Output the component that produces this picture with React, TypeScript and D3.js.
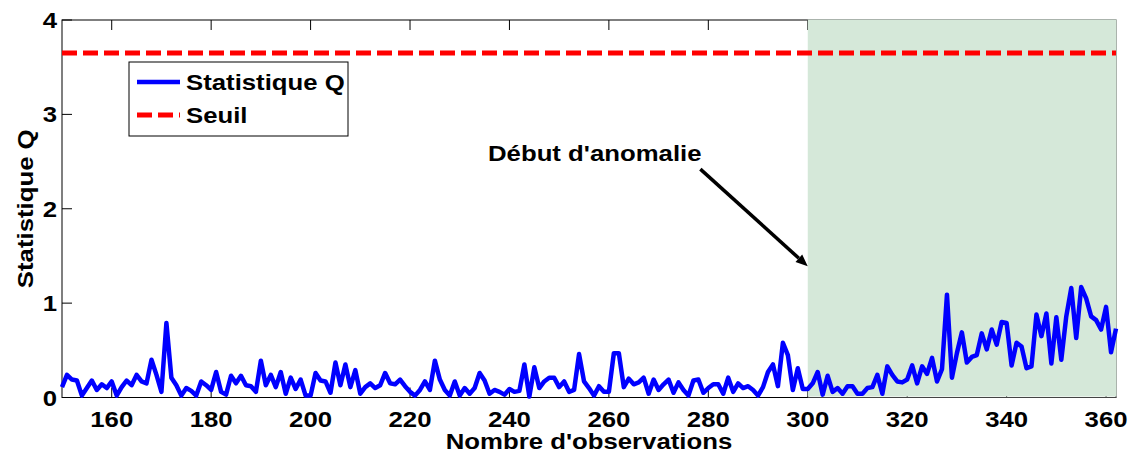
import React from "react";
import * as d3 from "d3";

const startObs = 150;
const qValues: number[] = [
  0.11, 0.24, 0.19, 0.18, 0.02, 0.10, 0.18, 0.08, 0.14, 0.10,
  0.17, 0.02, 0.11, 0.18, 0.13, 0.24, 0.17, 0.15, 0.40, 0.24,
  0.06, 0.79, 0.21, 0.13, 0.02, 0.10, 0.07, 0.02, 0.17, 0.13,
  0.08, 0.27, 0.06, 0.03, 0.23, 0.15, 0.23, 0.13, 0.12, 0.06,
  0.39, 0.13, 0.24, 0.11, 0.27, 0.04, 0.21, 0.09, 0.19, 0.02,
  0.02, 0.26, 0.18, 0.17, 0.05, 0.37, 0.13, 0.35, 0.11, 0.29,
  0.04, 0.11, 0.15, 0.10, 0.13, 0.26, 0.15, 0.14, 0.19, 0.12,
  0.06, 0.02, 0.08, 0.17, 0.08, 0.39, 0.19, 0.08, 0.02, 0.17,
  0.02, 0.10, 0.04, 0.10, 0.26, 0.18, 0.04, 0.08, 0.06, 0.03,
  0.09, 0.06, 0.07, 0.35, 0.01, 0.32, 0.10, 0.17, 0.21, 0.21,
  0.11, 0.17, 0.06, 0.08, 0.46, 0.17, 0.10, 0.02, 0.12, 0.06,
  0.06, 0.47, 0.47, 0.11, 0.20, 0.14, 0.16, 0.21, 0.04, 0.19,
  0.08, 0.14, 0.19, 0.05, 0.16, 0.08, 0.02, 0.18, 0.19, 0.05,
  0.10, 0.14, 0.14, 0.04, 0.21, 0.06, 0.15, 0.10, 0.12, 0.08,
  0.02, 0.11, 0.27, 0.35, 0.12, 0.58, 0.45, 0.08, 0.31, 0.09,
  0.09, 0.15, 0.27, 0.03, 0.23, 0.06, 0.10, 0.04, 0.12, 0.12,
  0.04, 0.04, 0.10, 0.11, 0.24, 0.04, 0.33, 0.24, 0.17, 0.16,
  0.19, 0.34, 0.15, 0.33, 0.25, 0.42, 0.17, 0.30, 1.09, 0.21,
  0.47, 0.69, 0.37, 0.43, 0.45, 0.68, 0.51, 0.72, 0.56, 0.80,
  0.79, 0.34, 0.58, 0.54, 0.31, 0.33, 0.88, 0.65, 0.89, 0.36,
  0.85, 0.40, 0.86, 1.16, 0.63, 1.17, 1.05, 0.86, 0.82, 0.72,
  0.96, 0.48, 0.73,
];
const threshold = 3.65;
const anomalyStart = 300;
const xDomain: [number, number] = [150, 362];
const yDomain: [number, number] = [0, 4];
const xTicks = [160, 180, 200, 220, 240, 260, 280, 300, 320, 340, 360];
const yTicks = [0, 1, 2, 3, 4];
const seriesLabels = ["Statistique Q", "Seuil"];
const annotationText = "Début d'anomalie";
const xLabel = "Nombre d'observations";
const yLabel = "Statistique Q";

const W = 1134;
const H = 457;
const L = 62, R = 1116, T = 20, B = 397.5;
const FONT = "'Liberation Sans', Arial, sans-serif";
const FS = 23;
const SX = 1.12;

export default function App() {
  const x = d3.scaleLinear().domain(xDomain).range([L, R]);
  const y = d3.scaleLinear().domain(yDomain).range([B, T]);
  const line = d3
    .line<number>()
    .x((_, i) => x(startObs + i))
    .y((d) => y(d));
  const tl = 10;

  const txt = (
    s: string,
    tx: number,
    ty: number,
    anchor: string,
    size = FS,
    rot = 0
  ) => (
    <text
      transform={`translate(${tx},${ty}) rotate(${rot}) scale(${SX},1)`}
      textAnchor={anchor}
      fontFamily={FONT}
      fontWeight="bold"
      fontSize={size}
      fill="#000"
    >
      {s}
    </text>
  );

  const ax1 = x(278.4), ay1 = y(2.42), ax2 = x(anomalyStart), ay2 = y(1.39);
  const ang = Math.atan2(ay2 - ay1, ax2 - ax1);
  const hl = 12, hw = 5;
  const bx = ax2 - hl * Math.cos(ang), by = ay2 - hl * Math.sin(ang);
  const px = -Math.sin(ang), py = Math.cos(ang);
  const head = `${ax2},${ay2} ${bx + hw * px},${by + hw * py} ${bx - hw * px},${by - hw * py}`;

  return (
    <svg
      width={W}
      height={H}
      style={{ position: "absolute", left: 0, top: 0, background: "#fff" }}
    >
      <rect x={L} y={T} width={R - L} height={B - T} fill="#fff" stroke="#000" strokeWidth={1} />
      {xTicks.map((t) => (
        <g key={"xt" + t}>
          <line x1={x(t)} x2={x(t)} y1={B} y2={B - tl} stroke="#000" />
          <line x1={x(t)} x2={x(t)} y1={T} y2={T + tl} stroke="#000" />
        </g>
      ))}
      {yTicks.map((t) => (
        <line key={"yt" + t} x1={L} x2={L + tl} y1={y(t)} y2={y(t)} stroke="#000" />
      ))}
      <rect
        x={x(anomalyStart)}
        y={T - 0.5}
        width={R - x(anomalyStart) + 0.5}
        height={B - T - 0.5}
        fill="#d5e8d9"
      />
      <line x1={x(anomalyStart)} x2={R} y1={B} y2={B} stroke="#444" strokeWidth={1} />
      <line
        x1={L}
        x2={R}
        y1={y(threshold)}
        y2={y(threshold)}
        stroke="#ff0000"
        strokeWidth={5}
        strokeDasharray="15,6"
      />
      <path d={line(qValues) || ""} fill="none" stroke="#0000ff" strokeWidth={4.5} strokeLinejoin="round" />
      {xTicks.map((t) => (
        <g key={"xl" + t}>{txt(String(t), x(t), 427, "middle")}</g>
      ))}
      {yTicks.map((t) => (
        <g key={"yl" + t}>{txt(String(t), L - 5, y(t) + 8, "end")}</g>
      ))}
      {txt(xLabel, (L + R) / 2, 449, "middle")}
      {txt(yLabel, 33, (T + B) / 2, "middle", FS, -90)}
      <rect x={129} y={62} width={219} height={74} fill="#fff" stroke="#000" strokeWidth={1} />
      <line x1={137} x2={180} y1={82} y2={82} stroke="#0000ff" strokeWidth={4.5} />
      <line x1={137} x2={180} y1={115} y2={115} stroke="#ff0000" strokeWidth={5} strokeDasharray="15,6" />
      {txt(seriesLabels[0], 186, 90, "start")}
      {txt(seriesLabels[1], 186, 123, "start")}
      {txt(annotationText, 488, 161, "start")}
      <line x1={ax1} y1={ay1} x2={bx} y2={by} stroke="#000" strokeWidth={3.5} />
      <polygon points={head} fill="#000" />
    </svg>
  );
}
